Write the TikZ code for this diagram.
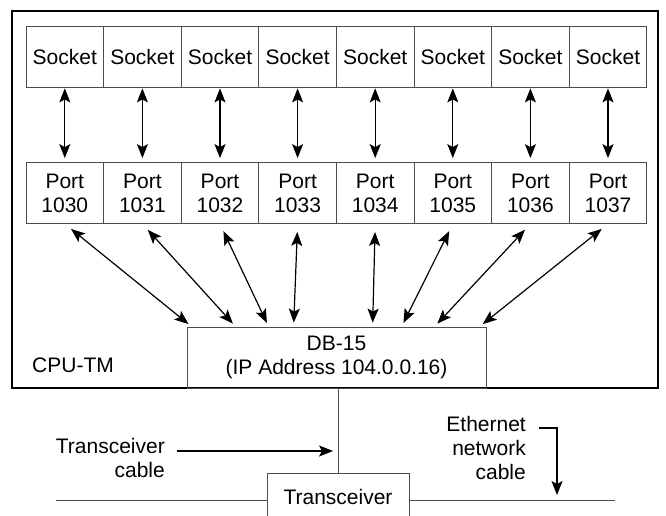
\documentclass[tikz,border=0pt]{standalone}
\usepackage{fontspec}
\setmainfont{Liberation Sans}
\usetikzlibrary{arrows.meta,positioning}

\begin{document}
\begin{tikzpicture}[x=1pt, y=-1pt,
        font=\fontsize{21}{24}\selectfont,
        cell/.style={draw=black!70, line width=0.8pt, minimum width=77.6pt, minimum height=61pt, inner sep=0pt, align=center},
        plain/.style={draw=black!70, line width=0.8pt},
        link/.style={{Stealth[length=14pt,width=11pt,inset=3pt]}-{Stealth[length=14pt,width=11pt,inset=3pt]}, line width=1.2pt},
        lead/.style={-{Stealth[length=14pt,width=11pt,inset=3pt]}, line width=1.2pt}]
    \useasboundingbox (0,0) rectangle (666,516);
    \def\cw{77.6}
    \def\xo{26}

    % CPU-TM board
    \draw[line width=1.5pt] (12,11) rectangle (658,388);
    \node[anchor=west, inner sep=0pt] (cpu) at (32,365) {CPU-TM};

    % sockets and ports
    \foreach \i in {1,...,8} {
        \pgfmathtruncatemacro\num{1029+\i}
        \node[cell] (s\i) at ({\xo+\cw*(\i-0.5)}, 56.5) {Socket};
        \node[cell] (p\i) at ({\xo+\cw*(\i-0.5)}, 193) {Port\\\num};
        \draw[link, shorten <=1pt, shorten >=4pt] (s\i) -- (p\i);
    }

    % DB-15
    \node[cell, minimum width=299pt] (db) at (336.5,357.5) {DB-15\\(IP Address 104.0.0.16)};
    \foreach \i/\dx in {1/5, 2/49, 3/82, 4/107, 5/186, 6/215, 7/248, 8/293} {
        \coordinate (d\i) at ([xshift=\dx]db.north west);
        \draw[link, shorten <=8pt, shorten >=4pt] (p\i.south) -- (d\i);
    }

    % transceiver and cables
    \node[plain, minimum width=142pt, minimum height=48pt, inner sep=0pt, anchor=north] (tr) at (338,473) {Transceiver};
    \draw[plain] (db.south -| tr.north) -- (tr.north);
    \coordinate (lan w) at (56,500);
    \coordinate (lan e) at (615,500);
    \draw[plain] (lan w) -- (lan w -| tr.west);
    \draw[plain] (lan e -| tr.east) -- (lan e);

    \node[align=right, anchor=east, inner sep=0pt] (tcl) at (165,457.5) {Transceiver\\cable};
    \coordinate (tctip) at (333,451);
    \draw[lead] ([shift={(12,-6.5)}]tcl.east) -- (tctip);

    \node[align=right, anchor=east, inner sep=0pt] (eth) at (526,448) {Ethernet\\network\\cable};
    \coordinate (ethtip) at (557,495);
    \draw[lead] ([shift={(13,-20)}]eth.east) -| (ethtip);
\end{tikzpicture}
\end{document}
